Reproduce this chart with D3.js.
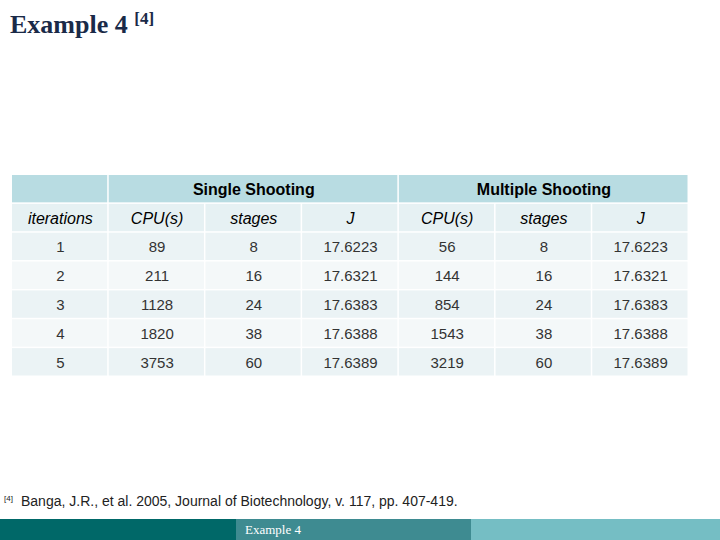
<!doctype html>
<html><head><meta charset="utf-8">
<script src="https://cdn.jsdelivr.net/npm/d3@7"></script>
<style>body{margin:0}svg{display:block}</style></head>
<body><svg width="720" height="540"></svg>
<script>
var groups = ["Single Shooting", "Multiple Shooting"];
var columns = ["iterations", "CPU(s)", "stages", "J", "CPU(s)", "stages", "J"];
var iterations = [1, 2, 3, 4, 5];
var cpuSingle = [89, 211, 1128, 1820, 3753];
var stagesSingle = [8, 16, 24, 38, 60];
var jSingle = ["17.6223", "17.6321", "17.6383", "17.6388", "17.6389"];
var cpuMultiple = [56, 144, 854, 1543, 3219];
var stagesMultiple = [8, 16, 24, 38, 60];
var jMultiple = ["17.6223", "17.6321", "17.6383", "17.6388", "17.6389"];

var rows = iterations.map(function(d, i) {
  return [d, cpuSingle[i], stagesSingle[i], jSingle[i], cpuMultiple[i], stagesMultiple[i], jMultiple[i]];
});

var svg = d3.select("svg");
svg.append("rect").attr("width", 720).attr("height", 540).attr("fill", "#fff");

svg.append("text").attr("x", 10).attr("y", 33)
  .style("font", "bold 26px 'Liberation Serif', serif").attr("fill", "#1a2a48")
  .text("Example 4 ").append("tspan").attr("dy", -9).style("font-size", "17px").text("[4]");

var x = d3.scaleLinear().domain([0, 7]).range([12, 689]);
var rowY = d3.scaleLinear().domain([0, 7]).range([175, 377]);
var gap = 1.5;

// header row 1
svg.append("rect").attr("x", x(0)).attr("y", rowY(0)).attr("width", x(1) - x(0) - gap).attr("height", rowY(1) - rowY(0) - gap).attr("fill", "#b8dce2");
groups.forEach(function(g, i) {
  var x0 = x(1 + 3 * i), x1 = x(4 + 3 * i);
  svg.append("rect").attr("x", x0).attr("y", rowY(0)).attr("width", x1 - x0 - gap).attr("height", rowY(1) - rowY(0) - gap).attr("fill", "#b8dce2");
  svg.append("text").attr("x", (x0 + x1) / 2).attr("y", rowY(0.5) + 6).attr("text-anchor", "middle")
    .style("font", "bold 16px 'Liberation Sans', Arial, sans-serif").attr("fill", "#000").text(g);
});

// header row 2
columns.forEach(function(c, j) {
  svg.append("rect").attr("x", x(j)).attr("y", rowY(1)).attr("width", x(j + 1) - x(j) - gap).attr("height", rowY(2) - rowY(1) - gap).attr("fill", "#e6f1f3");
  svg.append("text").attr("x", (x(j) + x(j + 1)) / 2).attr("y", rowY(1.5) + 6).attr("text-anchor", "middle")
    .style("font", "italic 16px 'Liberation Sans', Arial, sans-serif").attr("fill", "#000").text(c);
});

rows.forEach(function(r, i) {
  r.forEach(function(v, j) {
    svg.append("rect").attr("x", x(j)).attr("y", rowY(i + 2)).attr("width", x(j + 1) - x(j) - gap).attr("height", rowY(i + 3) - rowY(i + 2) - gap)
      .attr("fill", i % 2 === 0 ? "#ebf3f5" : "#f4f8f9");
    svg.append("text").attr("x", (x(j) + x(j + 1)) / 2).attr("y", rowY(i + 2.5) + 5).attr("text-anchor", "middle")
      .style("font", "15px 'Liberation Sans', Arial, sans-serif").attr("fill", "#333").text(v);
  });
});

svg.append("text").attr("x", 21).attr("y", 506).style("font", "14px 'Liberation Sans', Arial, sans-serif").attr("fill", "#222")
  .text("Banga, J.R., et al. 2005, Journal of Biotechnology, v. 117, pp. 407-419.");
svg.append("text").attr("x", 4).attr("y", 501).style("font", "8px 'Liberation Sans', Arial, sans-serif").attr("fill", "#222").text("[4]");

svg.append("rect").attr("x", 0).attr("y", 519).attr("width", 236).attr("height", 21).attr("fill", "#006868");
svg.append("rect").attr("x", 236).attr("y", 519).attr("width", 235).attr("height", 21).attr("fill", "#3e8b91");
svg.append("rect").attr("x", 471).attr("y", 519).attr("width", 249).attr("height", 21).attr("fill", "#75bec4");
svg.append("text").attr("x", 245).attr("y", 534).style("font", "13px 'Liberation Serif', serif").attr("fill", "#fff").text("Example 4");
</script></body></html>
